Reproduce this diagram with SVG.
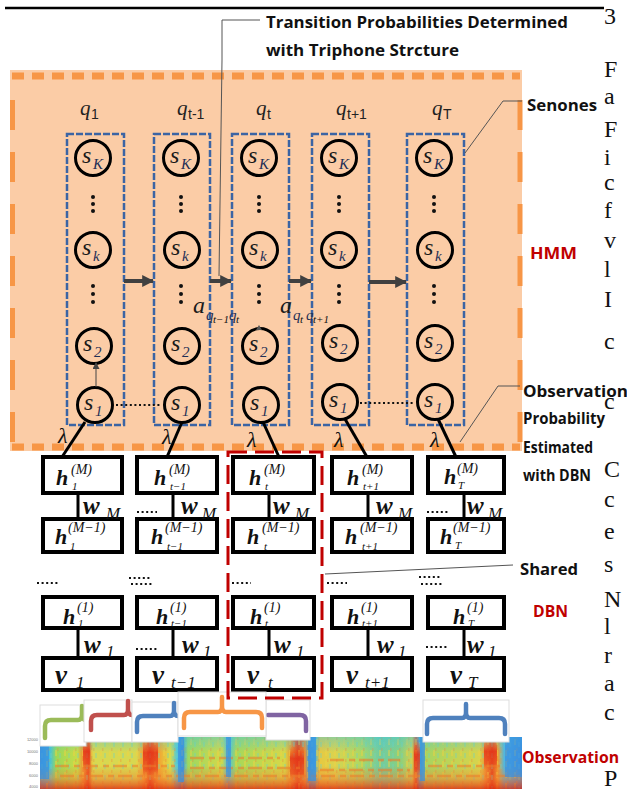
<svg xmlns="http://www.w3.org/2000/svg" width="627" height="789" viewBox="0 0 627 789">
<defs>
<style>
.lbl{font-family:"Open Sans","Liberation Sans",sans-serif;font-weight:700;font-size:16px;fill:#111}
.red{fill:#C00000}
.blue{fill:none;stroke:#3B64A4;stroke-width:2.5;stroke-dasharray:7 2}
.st{fill:none;stroke:#000;stroke-width:3}
.s{font-family:"Liberation Serif",serif;font-style:italic;font-size:24px;fill:#1a1a1a}
.ss{font-family:"Liberation Serif",serif;font-style:italic;font-size:15px;fill:#1F2F55}
.q{font-family:"Liberation Serif",serif;font-style:italic;font-size:21px;fill:#222}
.qs{font-family:"Liberation Sans",sans-serif;font-size:14px;fill:#222}
.dot{fill:#111}
.box{fill:#fff;stroke:#000;stroke-width:4}
.hb{font-family:"Liberation Serif",serif;font-style:italic;font-weight:700;font-size:22px;fill:#111}
.vb{font-family:"Liberation Serif",serif;font-style:italic;font-weight:700;font-size:27px;fill:#111}
.wb{font-family:"Liberation Serif",serif;font-style:italic;font-weight:700;font-size:25px;fill:#111}
.sup{font-family:"Liberation Serif",serif;font-style:italic;font-size:14px;fill:#111}
.sub{font-family:"Liberation Serif",serif;font-style:italic;font-size:11px;fill:#111}
.ws{font-family:"Liberation Serif",serif;font-style:italic;font-size:17px;fill:#111}
.lam{font-family:"Liberation Serif",serif;font-style:italic;font-size:22px;fill:#111}
.conn{stroke:#000;stroke-width:3;fill:none}
.garr{stroke:#404040;stroke-width:4;fill:none}
.lead{stroke:#555;stroke-width:1;fill:none}
.dl{stroke:#111;stroke-width:2.2;stroke-dasharray:2 2.6;fill:none}
.brk{fill:none;stroke-width:4.5;stroke-linecap:round;stroke-linejoin:round}
.pbox{fill:#fff;stroke:#ddd;stroke-width:1}
.pt{font-family:"Liberation Serif",serif;font-size:24px;fill:#111}
.ax{font-family:"Liberation Sans",sans-serif;font-size:4px;fill:#777}
</style>
<marker id="gh" markerWidth="12" markerHeight="12" refX="9" refY="5" orient="auto" markerUnits="userSpaceOnUse" viewBox="0 0 10 10">
<path d="M0,0 L10,5 L0,10 Z" fill="#404040"/>
</marker>
<marker id="th" markerWidth="7" markerHeight="7" refX="6" refY="3.5" orient="auto" markerUnits="userSpaceOnUse" viewBox="0 0 7 7">
<path d="M0,0 L7,3.5 L0,7 Z" fill="#444"/>
</marker>
<linearGradient id="spx" gradientUnits="userSpaceOnUse" x1="40" y1="0" x2="522" y2="0">
<stop offset="0" stop-color="#3a9ce0"/>
<stop offset="0.02" stop-color="#40c0e0"/>
<stop offset="0.034" stop-color="#9ad858"/>
<stop offset="0.078" stop-color="#c8dc48"/>
<stop offset="0.09" stop-color="#f08a30"/>
<stop offset="0.1" stop-color="#e8401c"/>
<stop offset="0.11" stop-color="#d8d850"/>
<stop offset="0.2" stop-color="#d8d850"/>
<stop offset="0.216" stop-color="#f59a30"/>
<stop offset="0.228" stop-color="#e83a1c"/>
<stop offset="0.245" stop-color="#f4a030"/>
<stop offset="0.27" stop-color="#dcdc48"/>
<stop offset="0.284" stop-color="#50c8d8"/>
<stop offset="0.295" stop-color="#3a98e0"/>
<stop offset="0.307" stop-color="#9cd860"/>
<stop offset="0.378" stop-color="#d0d84c"/>
<stop offset="0.39" stop-color="#48c0e0"/>
<stop offset="0.407" stop-color="#a8d858"/>
<stop offset="0.508" stop-color="#d6d848"/>
<stop offset="0.523" stop-color="#f08a2c"/>
<stop offset="0.535" stop-color="#e0321a"/>
<stop offset="0.55" stop-color="#f09030"/>
<stop offset="0.558" stop-color="#3c9ce0"/>
<stop offset="0.57" stop-color="#40b0e0"/>
<stop offset="0.58" stop-color="#e8c840"/>
<stop offset="0.612" stop-color="#d8d450"/>
<stop offset="0.664" stop-color="#b0d860"/>
<stop offset="0.705" stop-color="#70cca0"/>
<stop offset="0.747" stop-color="#88d080"/>
<stop offset="0.772" stop-color="#d0d050"/>
<stop offset="0.78" stop-color="#e84020"/>
<stop offset="0.788" stop-color="#3aa0e0"/>
<stop offset="0.801" stop-color="#a8d460"/>
<stop offset="0.913" stop-color="#d8d44c"/>
<stop offset="0.925" stop-color="#f08830"/>
<stop offset="0.938" stop-color="#e03a1c"/>
<stop offset="0.95" stop-color="#f0a030"/>
<stop offset="0.963" stop-color="#50b8e0"/>
<stop offset="1" stop-color="#3a8ee0"/>
</linearGradient>
<linearGradient id="spv" x1="0" y1="0" x2="0" y2="1">
<stop offset="0" stop-color="#40c8e8" stop-opacity="0.45"/>
<stop offset="0.3" stop-color="#40c8e8" stop-opacity="0"/>
<stop offset="0.55" stop-color="#f08030" stop-opacity="0"/>
<stop offset="0.78" stop-color="#f08030" stop-opacity="0.45"/>
<stop offset="1" stop-color="#e02a10" stop-opacity="0.8"/>
</linearGradient>
<linearGradient id="streak" x1="0" y1="0" x2="0" y2="1">
<stop offset="0" stop-color="#f07a28" stop-opacity="0.2"/>
<stop offset="0.35" stop-color="#e4361a" stop-opacity="0.85"/>
<stop offset="0.75" stop-color="#e84a1e" stop-opacity="0.7"/>
<stop offset="1" stop-color="#f09030" stop-opacity="0.1"/>
</linearGradient>
<pattern id="tex" width="9" height="11" patternUnits="userSpaceOnUse">
<rect x="1" y="2" width="2" height="6" fill="#f2d040" opacity="0.45"/>
<rect x="5" y="5" width="2" height="5" fill="#6fd0c0" opacity="0.35"/>
<rect x="3" y="0" width="1.5" height="3" fill="#f08a30" opacity="0.35"/>
</pattern>
</defs>

<rect width="627" height="789" fill="#fff"/>
<line x1="5" y1="8" x2="604" y2="8" stroke="#000" stroke-width="2.5"/>

<g id="hmm">
<rect x="10" y="70" width="512" height="381" fill="#FBCCA6"/>
<line x1="12" y1="76" x2="520" y2="76" stroke="#F79646" stroke-width="7" stroke-dasharray="12 8"/>
<line x1="12" y1="447" x2="520" y2="447" stroke="#F79646" stroke-width="7" stroke-dasharray="12 8"/>
<line x1="12.5" y1="100" x2="12.5" y2="447" stroke="#F79646" stroke-width="5" stroke-dasharray="30 22"/>
<line x1="520" y1="100" x2="520" y2="447" stroke="#F79646" stroke-width="5" stroke-dasharray="30 22"/>
</g>

<g id="col1">
<text class="q" x="80" y="115">q</text><text class="qs" x="91" y="119">1</text>
<rect class="blue" x="67" y="134" width="57" height="291"/>
<circle class="st" cx="93" cy="158" r="17.5"/><text class="s" x="82" y="163">s</text><text class="ss" x="93" y="169">K</text>
<circle class="dot" cx="93" cy="197" r="2"/><circle class="dot" cx="93" cy="204" r="2"/><circle class="dot" cx="93" cy="211" r="2"/>
<circle class="st" cx="93" cy="250" r="17.5"/><text class="s" x="82" y="255">s</text><text class="ss" x="93" y="261">k</text>
<circle class="dot" cx="93" cy="286" r="2"/><circle class="dot" cx="93" cy="294" r="2"/><circle class="dot" cx="93" cy="302" r="2"/>
<circle class="st" cx="94" cy="346" r="17.5"/><text class="s" x="83" y="351">s</text><text class="ss" x="94" y="357">2</text>
<circle class="st" cx="95" cy="405" r="17.5"/><text class="s" x="84" y="410">s</text><text class="ss" x="95" y="416">1</text>
</g>
<g id="col2">
<text class="q" x="177" y="115">q</text><text class="qs" x="188" y="119">t-1</text>
<rect class="blue" x="154" y="134" width="56" height="291"/>
<circle class="st" cx="181" cy="158" r="17.5"/><text class="s" x="170" y="163">s</text><text class="ss" x="181" y="169">K</text>
<circle class="dot" cx="181" cy="197" r="2"/><circle class="dot" cx="181" cy="204" r="2"/><circle class="dot" cx="181" cy="211" r="2"/>
<circle class="st" cx="182" cy="250" r="17.5"/><text class="s" x="171" y="255">s</text><text class="ss" x="182" y="261">k</text>
<circle class="dot" cx="181" cy="286" r="2"/><circle class="dot" cx="181" cy="294" r="2"/><circle class="dot" cx="181" cy="302" r="2"/>
<circle class="st" cx="182" cy="346" r="17.5"/><text class="s" x="171" y="351">s</text><text class="ss" x="182" y="357">2</text>
<circle class="st" cx="182" cy="405" r="17.5"/><text class="s" x="171" y="410">s</text><text class="ss" x="182" y="416">1</text>
</g>
<g id="col3">
<text class="q" x="256" y="115">q</text><text class="qs" x="267" y="119">t</text>
<rect class="blue" x="232" y="134" width="57" height="291"/>
<circle class="st" cx="259" cy="158" r="17.5"/><text class="s" x="248" y="163">s</text><text class="ss" x="259" y="169">K</text>
<circle class="dot" cx="259" cy="197" r="2"/><circle class="dot" cx="259" cy="204" r="2"/><circle class="dot" cx="259" cy="211" r="2"/>
<circle class="st" cx="260" cy="250" r="17.5"/><text class="s" x="249" y="255">s</text><text class="ss" x="260" y="261">k</text>
<circle class="dot" cx="259" cy="286" r="2"/><circle class="dot" cx="259" cy="294" r="2"/><circle class="dot" cx="259" cy="302" r="2"/>
<circle class="st" cx="260" cy="346" r="17.5"/><text class="s" x="249" y="351">s</text><text class="ss" x="260" y="357">2</text>
<circle class="st" cx="261" cy="405" r="17.5"/><text class="s" x="250" y="410">s</text><text class="ss" x="261" y="416">1</text>
</g>
<g id="col4">
<text class="q" x="336" y="115">q</text><text class="qs" x="347" y="119">t+1</text>
<rect class="blue" x="312" y="134" width="57" height="291"/>
<circle class="st" cx="339" cy="158" r="17.5"/><text class="s" x="328" y="163">s</text><text class="ss" x="339" y="169">K</text>
<circle class="dot" cx="339" cy="197" r="2"/><circle class="dot" cx="339" cy="204" r="2"/><circle class="dot" cx="339" cy="211" r="2"/>
<circle class="st" cx="339" cy="250" r="17.5"/><text class="s" x="328" y="255">s</text><text class="ss" x="339" y="261">k</text>
<circle class="dot" cx="339" cy="286" r="2"/><circle class="dot" cx="339" cy="294" r="2"/><circle class="dot" cx="339" cy="302" r="2"/>
<circle class="st" cx="340" cy="343" r="17.5"/><text class="s" x="329" y="348">s</text><text class="ss" x="340" y="354">2</text>
<circle class="st" cx="340" cy="402" r="17.5"/><text class="s" x="329" y="407">s</text><text class="ss" x="340" y="413">1</text>
</g>
<g id="col5">
<text class="q" x="432" y="115">q</text><text class="qs" x="443" y="119">T</text>
<rect class="blue" x="407" y="134" width="57" height="291"/>
<circle class="st" cx="434" cy="158" r="17.5"/><text class="s" x="423" y="163">s</text><text class="ss" x="434" y="169">K</text>
<circle class="dot" cx="434" cy="197" r="2"/><circle class="dot" cx="434" cy="204" r="2"/><circle class="dot" cx="434" cy="211" r="2"/>
<circle class="st" cx="435" cy="250" r="17.5"/><text class="s" x="424" y="255">s</text><text class="ss" x="435" y="261">k</text>
<circle class="dot" cx="434" cy="286" r="2"/><circle class="dot" cx="434" cy="294" r="2"/><circle class="dot" cx="434" cy="302" r="2"/>
<circle class="st" cx="435" cy="343" r="17.5"/><text class="s" x="424" y="348">s</text><text class="ss" x="435" y="354">2</text>
<circle class="st" cx="435" cy="402" r="17.5"/><text class="s" x="424" y="407">s</text><text class="ss" x="435" y="413">1</text>
</g>

<g id="trans-labels">
<text class="s" x="193" y="313">a</text>
<text class="ss" x="206" y="320" font-size="13">q</text><text class="sub" x="213" y="323" font-size="10">t−1</text><text class="ss" x="229" y="320" font-size="13">q</text><text class="sub" x="236" y="323" font-size="10">t</text>
<text class="s" x="280" y="313">a</text>
<text class="ss" x="293" y="320" font-size="13">q</text><text class="sub" x="300" y="323" font-size="10">t</text><text class="ss" x="306" y="320" font-size="13">q</text><text class="sub" x="313" y="323" font-size="10">t+1</text>
</g>

<g id="dbn1">
<rect class="box" x="43" y="457" width="79" height="36"/>
<text class="hb" x="56" y="485">h</text><text class="sup" x="71" y="474">(M)</text><text class="sub" x="72" y="490">1</text>
<rect class="box" x="43" y="519" width="79" height="33"/>
<text class="hb" x="55" y="544">h</text><text class="sup" x="68" y="532">(M−1)</text><text class="sub" x="70" y="550">1</text>
<rect class="box" x="43" y="597" width="79" height="31"/>
<text class="hb" x="63" y="624">h</text><text class="sup" x="77" y="612">(1)</text><text class="sub" x="78" y="627">1</text>
<rect class="box" x="43" y="658" width="79" height="32"/>
<text class="vb" x="55" y="684">v</text><text class="ws" x="76" y="688">1</text>
</g>
<g id="dbn2">
<rect class="box" x="137" y="457" width="80" height="36"/>
<text class="hb" x="154" y="485">h</text><text class="sup" x="169" y="474">(M)</text><text class="sub" x="170" y="490">t−1</text>
<rect class="box" x="137" y="519" width="80" height="33"/>
<text class="hb" x="151" y="544">h</text><text class="sup" x="165" y="532">(M−1)</text><text class="sub" x="167" y="550">t−1</text>
<rect class="box" x="137" y="597" width="80" height="31"/>
<text class="hb" x="156" y="624">h</text><text class="sup" x="170" y="612">(1)</text><text class="sub" x="171" y="627">t−1</text>
<rect class="box" x="137" y="658" width="80" height="32"/>
<text class="vb" x="152" y="684">v</text><text class="ws" x="171" y="688">t−1</text>
</g>
<g id="dbn3">
<rect class="box" x="233" y="457" width="81" height="36"/>
<text class="hb" x="249" y="485">h</text><text class="sup" x="264" y="474">(M)</text><text class="sub" x="265" y="490">t</text>
<rect class="box" x="233" y="519" width="81" height="33"/>
<text class="hb" x="247" y="544">h</text><text class="sup" x="262" y="532">(M−1)</text><text class="sub" x="264" y="550">t</text>
<rect class="box" x="233" y="597" width="81" height="31"/>
<text class="hb" x="250" y="624">h</text><text class="sup" x="264" y="612">(1)</text><text class="sub" x="265" y="627">t</text>
<rect class="box" x="233" y="658" width="81" height="32"/>
<text class="vb" x="247" y="684">v</text><text class="ws" x="268" y="688">t</text>
</g>
<g id="dbn4">
<rect class="box" x="332" y="457" width="80" height="36"/>
<text class="hb" x="347" y="485">h</text><text class="sup" x="362" y="474">(M)</text><text class="sub" x="363" y="490">t+1</text>
<rect class="box" x="332" y="519" width="80" height="33"/>
<text class="hb" x="345" y="544">h</text><text class="sup" x="360" y="532">(M−1)</text><text class="sub" x="362" y="550">t+1</text>
<rect class="box" x="332" y="597" width="80" height="31"/>
<text class="hb" x="347" y="624">h</text><text class="sup" x="361" y="612">(1)</text><text class="sub" x="362" y="627">t+1</text>
<rect class="box" x="332" y="658" width="80" height="32"/>
<text class="vb" x="346" y="684">v</text><text class="ws" x="365" y="688">t+1</text>
</g>
<g id="dbn5">
<rect class="box" x="428" y="457" width="76" height="36"/>
<text class="hb" x="444" y="484" font-size="19">h</text><text class="sup" x="457" y="473" font-size="12">(M)</text><text class="sub" x="458" y="489">T</text>
<rect class="box" x="428" y="519" width="76" height="33"/>
<text class="hb" x="440" y="544" font-size="19">h</text><text class="sup" x="453" y="532" font-size="12">(M−1)</text><text class="sub" x="455" y="549">T</text>
<rect class="box" x="428" y="597" width="76" height="31"/>
<text class="hb" x="453" y="624">h</text><text class="sup" x="467" y="612">(1)</text><text class="sub" x="468" y="627">T</text>
<rect class="box" x="428" y="658" width="76" height="32"/>
<text class="vb" x="450" y="684">v</text><text class="ws" x="468" y="688">T</text>
</g>

<g id="connectors">
<line class="garr" x1="124" y1="281" x2="153" y2="281" marker-end="url(#gh)"/>
<line class="garr" x1="210" y1="281" x2="231" y2="281" marker-end="url(#gh)"/>
<line class="garr" x1="289" y1="281" x2="311" y2="281" marker-end="url(#gh)"/>
<line class="garr" x1="369" y1="282" x2="406" y2="282" marker-end="url(#gh)"/>
<line x1="96" y1="387" x2="96" y2="363" stroke="#444" stroke-width="1" marker-end="url(#th)"/>
<path d="M256,330 L259,325 L262,330" fill="#555"/>
<line class="dl" x1="116" y1="405" x2="162" y2="405"/>
<line class="dl" x1="360" y1="403" x2="414" y2="403"/>
<line class="conn" x1="85" y1="422" x2="62" y2="457"/>
<line class="conn" x1="182" y1="422" x2="167" y2="457"/>
<line class="conn" x1="263" y1="422" x2="279" y2="457"/>
<line class="conn" x1="345" y1="419" x2="367" y2="457"/>
<line class="conn" x1="438" y1="419" x2="456" y2="457"/>
<line class="conn" x1="78" y1="493" x2="78" y2="519"/>
<line class="conn" x1="173" y1="493" x2="173" y2="519"/>
<line class="conn" x1="269" y1="493" x2="269" y2="519"/>
<line class="conn" x1="368" y1="493" x2="368" y2="519"/>
<line class="conn" x1="464" y1="493" x2="464" y2="519"/>
<line class="conn" x1="78" y1="628" x2="78" y2="658"/>
<line class="conn" x1="173" y1="628" x2="173" y2="658"/>
<line class="conn" x1="269" y1="628" x2="269" y2="658"/>
<line class="conn" x1="368" y1="628" x2="368" y2="658"/>
<line class="conn" x1="464" y1="628" x2="464" y2="658"/>
<polyline class="lead" points="260,20 222,20 222,60 219,276"/>
<polyline class="lead" points="465,153 503,101 522,101"/>
<polyline class="lead" points="460,442 498,386 520,386"/>
<line class="lead" x1="325" y1="574" x2="513" y2="565"/>
</g>

<g id="dbn-labels">
<text class="lam" x="58" y="443">λ</text>
<text class="lam" x="162" y="444">λ</text>
<text class="lam" x="247" y="447">λ</text>
<text class="lam" x="334" y="447">λ</text>
<text class="lam" x="430" y="447">λ</text>
<text class="wb" x="83" y="514">w</text><text class="ws" x="106" y="519">M</text>
<text class="wb" x="181" y="514">w</text><text class="ws" x="202" y="519">M</text>
<text class="wb" x="273" y="514">w</text><text class="ws" x="295" y="519">M</text>
<text class="wb" x="376" y="514">w</text><text class="ws" x="398" y="519">M</text>
<text class="wb" x="467" y="514">w</text><text class="ws" x="488" y="519">M</text>
<text class="wb" x="84" y="653">w</text><text class="ws" x="106" y="657">1</text>
<text class="wb" x="182" y="653">w</text><text class="ws" x="203" y="657">1</text>
<text class="wb" x="274" y="653">w</text><text class="ws" x="296" y="657">1</text>
<text class="wb" x="377" y="653">w</text><text class="ws" x="398" y="657">1</text>
<text class="wb" x="467" y="653">w</text><text class="ws" x="488" y="657">1</text>
<line class="dl" x1="137" y1="512" x2="157" y2="512"/>
<line class="dl" x1="427" y1="512" x2="448" y2="512"/>
<line class="dl" x1="136" y1="649" x2="157" y2="649"/>
<line class="dl" x1="426" y1="647" x2="448" y2="647"/>
<line class="dl" x1="37" y1="583" x2="58" y2="583"/>
<line class="dl" x1="129" y1="578" x2="150" y2="578"/>
<line class="dl" x1="131" y1="584" x2="153" y2="584"/>
<line class="dl" x1="232" y1="583" x2="251" y2="583"/>
<line class="dl" x1="327" y1="583" x2="347" y2="583"/>
<line class="dl" x1="419" y1="577" x2="440" y2="577"/>
<line class="dl" x1="421" y1="584" x2="443" y2="584"/>
</g>

<g id="spectrogram">
<rect x="40" y="737" width="482" height="52" fill="url(#spx)"/>
<rect x="40" y="737" width="482" height="52" fill="url(#tex)"/>
<rect x="40" y="737" width="482" height="52" fill="url(#spv)"/>
<g fill="url(#streak)">
<rect x="83" y="740" width="7" height="32" rx="3"/>
<rect x="143" y="738" width="15" height="42" rx="6"/>
<rect x="290" y="745" width="14" height="38" rx="6"/>
<rect x="414" y="742" width="6" height="36" rx="3"/>
<rect x="484" y="740" width="13" height="32" rx="5"/>
</g>
<g stroke="#ef7a28" stroke-width="2.5" opacity="0.55" stroke-dasharray="14 5 6 4">
<line x1="55" y1="766" x2="175" y2="766"/>
<line x1="190" y1="768" x2="300" y2="768"/>
<line x1="320" y1="770" x2="410" y2="770"/>
<line x1="428" y1="766" x2="500" y2="766"/>
<line x1="60" y1="776" x2="520" y2="776"/>
<line x1="190" y1="758" x2="280" y2="758"/>
<line x1="330" y1="760" x2="400" y2="760"/>
</g>
<g fill="#3a90e0" opacity="0.7">
<rect x="178" y="737" width="6" height="45"/>
<rect x="308" y="737" width="8" height="44"/>
<rect x="420" y="737" width="5" height="44"/>
<rect x="226" y="737" width="5" height="40"/>
<rect x="505" y="737" width="17" height="40"/>
<rect x="40" y="737" width="9" height="42"/>
</g>
<text class="ax" x="38" y="741" text-anchor="end">12000</text>
<text class="ax" x="38" y="753" text-anchor="end">10000</text>
<text class="ax" x="38" y="765" text-anchor="end">8000</text>
<text class="ax" x="38" y="777" text-anchor="end">6000</text>
<text class="ax" x="38" y="788" text-anchor="end">4000</text>
</g>

<g id="phone-brackets">
<rect class="pbox" x="40" y="705" width="46" height="41"/>
<path class="brk" stroke="#9BBB59" d="M45,738 L45,726 Q45,720 51,720 L78,720 Q82,720 82,714 L82,706 M82,714 Q82,720 86,720"/>
<rect class="pbox" x="84" y="700" width="48" height="42"/>
<path class="brk" stroke="#C0504D" d="M91,730 L91,721 Q91,715 97,715 L124,715 Q128,715 128,709 L128,701 M128,709 Q128,715 132,715"/>
<rect class="pbox" x="132" y="702" width="46" height="40"/>
<path class="brk" stroke="#4F81BD" d="M137,732 L137,722 Q137,716 143,716 L170,716 Q174,716 174,710 L174,703 M174,710 Q174,716 178,716"/>
<rect class="pbox" x="266" y="700" width="44" height="40"/>
<path class="brk" stroke="#8064A2" d="M268,715 L300,715 Q306,715 306,721 L306,731"/>
<rect class="pbox" x="178" y="692" width="88" height="44"/>
<path class="brk" stroke="#F79646" d="M184,728 L184,718 Q184,712 190,712 L218,712 Q222,712 222,706 L222,697 M222,706 Q222,712 226,712 L256,712 Q262,712 262,718 L262,728"/>
<rect class="pbox" x="423" y="700" width="86" height="42"/>
<path class="brk" stroke="#4F81BD" d="M427,734 L427,724 Q427,718 433,718 L462,718 Q466,718 466,712 L466,704 M466,712 Q466,718 470,718 L499,718 Q505,718 505,724 L505,734"/>
</g>

<g id="shared">
<rect x="228" y="452" width="94" height="246" fill="none" stroke="#C00000" stroke-width="3" stroke-dasharray="19 8"/>
</g>

<g id="margin-text">
<text class="pt" x="604" y="24">3</text>
<text class="pt" x="604" y="77">F</text>
<text class="pt" x="604" y="104">a</text>
<text class="pt" x="604" y="137">F</text>
<text class="pt" x="604" y="165">i</text>
<text class="pt" x="604" y="190">c</text>
<text class="pt" x="604" y="218">f</text>
<text class="pt" x="604" y="248">v</text>
<text class="pt" x="604" y="277">l</text>
<text class="pt" x="604" y="307">I</text>
<text class="pt" x="604" y="349">c</text>
<text class="pt" x="604" y="409">c</text>
<text class="pt" x="604" y="477">C</text>
<text class="pt" x="604" y="507">c</text>
<text class="pt" x="604" y="539">e</text>
<text class="pt" x="604" y="572">s</text>
<text class="pt" x="604" y="607">N</text>
<text class="pt" x="604" y="634">l</text>
<text class="pt" x="604" y="663">r</text>
<text class="pt" x="604" y="691">a</text>
<text class="pt" x="604" y="720">c</text>
<text class="pt" x="604" y="786">P</text>
</g>

<g id="labels">
<text class="lbl" x="266" y="28" textLength="302" lengthAdjust="spacingAndGlyphs">Transition Probabilities Determined</text>
<text class="lbl" x="266" y="56" textLength="193" lengthAdjust="spacingAndGlyphs">with Triphone Strcture</text>
<text class="lbl" x="527" y="111" textLength="70" lengthAdjust="spacingAndGlyphs">Senones</text>
<text class="lbl red" x="530" y="259" textLength="47" lengthAdjust="spacingAndGlyphs">HMM</text>
<text class="lbl" x="523" y="397" textLength="105" lengthAdjust="spacingAndGlyphs">Observation</text>
<text class="lbl" x="523" y="424" textLength="82" lengthAdjust="spacingAndGlyphs">Probability</text>
<text class="lbl" x="523" y="453" textLength="70" lengthAdjust="spacingAndGlyphs">Estimated</text>
<text class="lbl" x="523" y="481" textLength="68" lengthAdjust="spacingAndGlyphs">with DBN</text>
<text class="lbl" x="520" y="575" textLength="58" lengthAdjust="spacingAndGlyphs">Shared</text>
<text class="lbl red" x="533" y="617" textLength="35" lengthAdjust="spacingAndGlyphs">DBN</text>
<text class="lbl red" x="522" y="763" textLength="97" lengthAdjust="spacingAndGlyphs">Observation</text>
</g>
</svg>
